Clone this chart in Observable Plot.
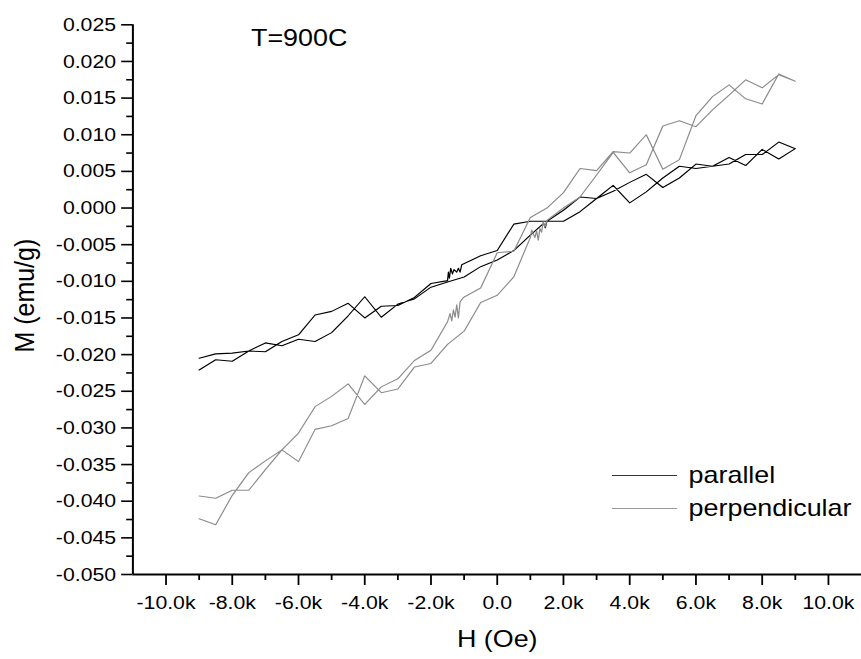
<!DOCTYPE html>
<html><head><meta charset="utf-8">
<script src="https://cdn.jsdelivr.net/npm/d3@7"></script>
<script src="https://cdn.jsdelivr.net/npm/@observablehq/plot@0.6"></script>
<style>
body{margin:0;background:#fff;}
#wrap{position:relative;width:861px;height:659px;overflow:hidden;font-family:"Liberation Sans",Arial,sans-serif;background:#fff;}
.ov{position:absolute;transform:scaleX(1.12);transform-origin:0 0;white-space:nowrap;color:#000;}
.row{display:flex;align-items:center;height:32.6px;}
.sw{display:inline-block;width:58px;height:0;margin-right:10.4px;}
</style></head><body><div id="wrap"></div>
<script>
// ---- data (H in Oe, M in emu/g) ----
const parA_H = [-9000,-8500,-8000,-7500,-7000,-6500,-6000,-5500,-5000,-4500,-4000,-3500,-3000,-2500,-2000,-1500,
  -1474,-1444,-1404,-1353,-1303,-1223,-1173,-1122,-1072,-500,0,
  500,1000,1500,2000,2500,3000,3500,4000,4500,5000,5500,6000,6500,7000,7500,8000,8500,9000];
const parA_M = [-0.0205,-0.0199,-0.0198,-0.0195,-0.0196,-0.0182,-0.0173,-0.0146,-0.0141,-0.0130,-0.0150,-0.0134,-0.0133,-0.0122,-0.0103,-0.0099,
  -0.00875,-0.00957,-0.00821,-0.00898,-0.00839,-0.00875,-0.00821,-0.00875,-0.00775,-0.0065,-0.0058,
  -0.0022,-0.0018,-0.0018,-0.0018,-0.0005,0.0013,0.0023,0.0035,0.0046,0.0028,0.0041,0.0060,0.0057,0.0069,0.0058,0.0080,0.0067,0.0081];

const parB_H = [-9000,-8500,-8000,-7500,-7000,-6500,-6000,-5500,-5000,-4500,-4000,-3500,-3000,-2500,-2000,-1500,-1000,-500,0,
  500,1000,1400,1450,1500,2000,2500,3000,3500,4000,4500,5000,5500,6000,6500,7000,7500,8000,8500,9000];
const parB_M = [-0.0221,-0.0207,-0.0209,-0.0195,-0.0184,-0.0188,-0.0179,-0.0182,-0.0170,-0.0147,-0.0121,-0.0149,-0.0131,-0.0124,-0.0108,-0.0101,-0.0094,-0.0080,-0.0071,
  -0.0058,-0.0037,-0.0021,-0.0027,-0.0018,-0.0003,0.0015,0.0013,0.0031,0.0007,0.0022,0.0041,0.0057,0.0054,0.0057,0.0060,0.0073,0.0073,0.0090,0.0081];

const perA_H = [-9000,-8500,-8000,-7500,-7000,-6500,-6000,-5500,-5000,-4500,-4000,-3500,-3000,-2500,-2000,-1500,
  -1424,-1373,-1323,-1273,-1223,-1173,-1122,-1022,-500,0,
  500,1000,1500,2000,2500,3000,3500,4000,4500,5000,5500,6000,6500,7000,7500,8000,8500,9000];
const perA_M = [-0.0424,-0.0432,-0.0392,-0.0361,-0.0345,-0.0330,-0.0307,-0.0271,-0.0257,-0.0240,-0.0268,-0.0244,-0.0233,-0.0208,-0.0194,-0.0155,
  -0.0144,-0.0154,-0.0139,-0.0149,-0.0132,-0.0150,-0.0128,-0.0122,-0.0109,-0.0061,
  -0.0059,-0.0013,0.0000,0.0021,0.0054,0.0051,0.0077,0.0075,0.0100,0.0053,0.0066,0.0126,0.0152,0.0168,0.0149,0.0142,0.0183,0.0173];

const perB_H = [-9000,-8500,-8000,-7500,-7000,-6500,-6000,-5500,-5000,-4500,-4000,-3500,-3000,-2500,-2000,-1500,-1000,-500,0,500,1000,
  1038,1088,1139,1189,1239,1289,1339,1390,1440,
  1500,2000,2500,3000,3500,4000,4500,5000,5500,6000,6500,7000,7500,8000,8500,9000];
const perB_M = [-0.0393,-0.0396,-0.0385,-0.0385,-0.0357,-0.0330,-0.0346,-0.0302,-0.0297,-0.0287,-0.0229,-0.0252,-0.0247,-0.0217,-0.0212,-0.0186,-0.0168,-0.0129,-0.0119,-0.0094,-0.0040,
  -0.0030,-0.0035,-0.0040,-0.0031,-0.0044,-0.0028,-0.0033,-0.0019,-0.0026,
  -0.0017,0.0000,0.0015,0.0045,0.0076,0.0048,0.0059,0.0112,0.0119,0.0111,0.0134,0.0154,0.0175,0.0164,0.0182,0.0173];

const xMajor = [-10000,-8000,-6000,-4000,-2000,0,2000,4000,6000,8000,10000];
const xLabels = ["-10.0k","-8.0k","-6.0k","-4.0k","-2.0k","0.0","2.0k","4.0k","6.0k","8.0k","10.0k"];
const xMinor = [-9000,-7000,-5000,-3000,-1000,1000,3000,5000,7000,9000];
const yMajor = [0.025,0.020,0.015,0.010,0.005,0.000,-0.005,-0.010,-0.015,-0.020,-0.025,-0.030,-0.035,-0.040,-0.045,-0.050];
const yLabels = ["0.025","0.020","0.015","0.010","0.005","0.000","-0.005","-0.010","-0.015","-0.020","-0.025","-0.030","-0.035","-0.040","-0.045","-0.050"];
const yMinor = [0.0225,0.0175,0.0125,0.0075,0.0025,-0.0025,-0.0075,-0.0125,-0.0175,-0.0225,-0.0275,-0.0325,-0.0375,-0.0425,-0.0475];

const seriesNames = ["parallel","perpendicular"];
const seriesColors = ["#000000","#8c8c8c"];

// loop path: one branch forward, then the other branch back from the +H end
const zip = (hs, ms) => hs.map((h, i) => ({H: h, M: ms[i]}));
const loop = (aH, aM, bH, bM) => zip(aH, aM).concat(zip(bH, bM).reverse());
const parallelPath = loop(parA_H, parA_M, parB_H, parB_M);
const perpPath = loop(perA_H, perA_M, perB_H, perB_M);

const W = 769;
const tickStyle = {strokeWidth: 1.6};
const chart = Plot.plot({
  width: W, height: 659,
  marginLeft: 118.2, marginRight: 0, marginTop: 24.3, marginBottom: 85,
  x: {domain: [-11000, 11000]},
  y: {domain: [-0.05, 0.025]},
  style: {fontFamily: "Liberation Sans, Arial, sans-serif", fontSize: "19px", color: "#000", background: "#fff"},
  marks: [
    Plot.axisX(xMajor, {tickSize: 11, tickPadding: 10, tickFormat: d => xLabels[xMajor.indexOf(d)], label: null, fontSize: 19, ...tickStyle}),
    Plot.axisX(xMinor, {tickSize: 6, tickFormat: () => "", label: null, ...tickStyle}),
    Plot.axisY(yMajor, {tickSize: 10, tickPadding: 5, tickFormat: d => yLabels[yMajor.indexOf(d)], label: null, fontSize: 19, ...tickStyle}),
    Plot.axisY(yMinor, {tickSize: 5.5, tickFormat: () => "", label: null, ...tickStyle}),
    Plot.ruleX([-11000], {stroke: "#000", strokeWidth: 1.8}),
    Plot.ruleY([-0.05], {stroke: "#000", strokeWidth: 1.8}),
    Plot.line(parallelPath, {x: "H", y: "M", stroke: seriesColors[0], strokeWidth: 1.1}),
    Plot.line(perpPath, {x: "H", y: "M", stroke: seriesColors[1], strokeWidth: 1.1}),
    Plot.text(["H (Oe)"], {text: d => d, frameAnchor: "bottom", textAnchor: "middle", lineAnchor: "middle", dy: 65, fontSize: 24}),
    Plot.text(["M (emu/g)"], {text: d => d, frameAnchor: "left", textAnchor: "middle", lineAnchor: "middle", rotate: -90, dx: -95.9, dy: -4, fontSize: 25})
  ]
});
chart.setAttribute("width", 861);
chart.setAttribute("height", 659);
chart.setAttribute("preserveAspectRatio", "none");
chart.style.width = "861px";
chart.style.height = "659px";
chart.style.maxWidth = "none";
const wrap = document.getElementById("wrap");
wrap.appendChild(chart);

// annotation
const ann = document.createElement("div");
ann.className = "ov";
ann.style.cssText += "left:251px;top:25.7px;font-size:24px;line-height:24px;";
ann.textContent = "T=900C";
wrap.appendChild(ann);

// legend
const leg = document.createElement("div");
leg.className = "ov";
leg.style.cssText += "left:612px;top:459.4px;font-size:24px;line-height:32.6px;";
seriesNames.forEach((name, i) => {
  const row = document.createElement("div");
  row.className = "row";
  const sw = document.createElement("span");
  sw.className = "sw";
  sw.style.borderTop = `1.4px solid ${i === 0 ? "#333" : "#999"}`;
  const tx = document.createElement("span");
  tx.textContent = name;
  row.appendChild(sw); row.appendChild(tx);
  leg.appendChild(row);
});
wrap.appendChild(leg);
</script></body></html>
